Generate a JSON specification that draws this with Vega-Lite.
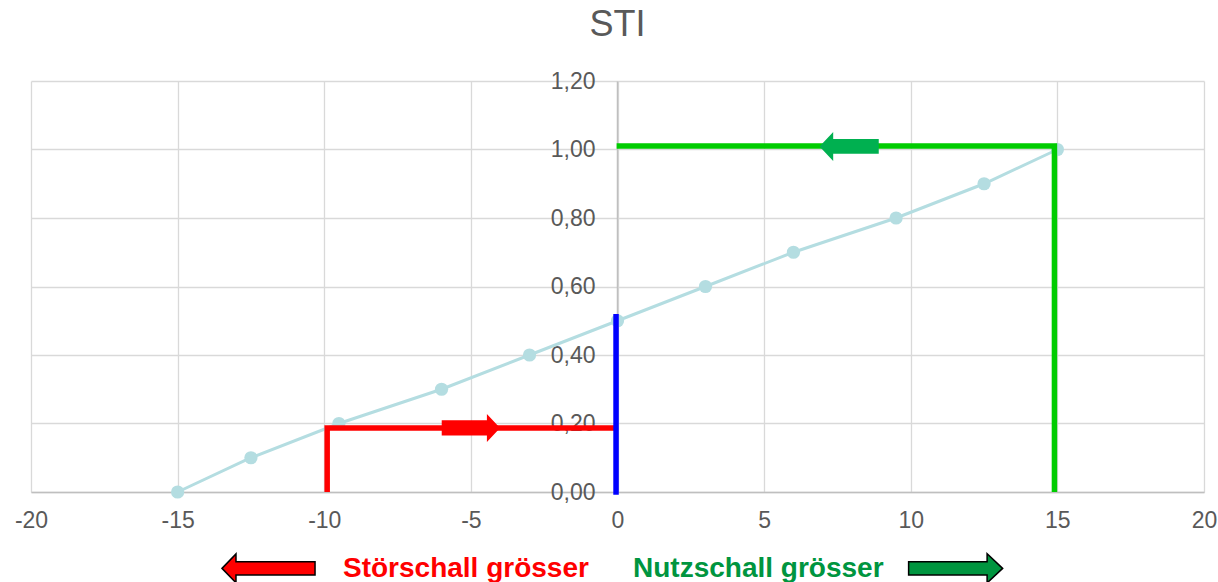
{
  "$schema": "https://vega.github.io/schema/vega-lite/v6.json",
  "width": 1173,
  "height": 411,
  "autosize": "none",
  "padding": {"left": 31, "top": 81, "right": 14, "bottom": 90},
  "background": "white",
  "config": {"view": {"stroke": null}, "font": "Liberation Sans"},
  "title": {"text": "STI", "fontSize": 36, "fontWeight": "normal", "color": "#595959", "font": "Liberation Sans", "baseline": "alphabetic", "offset": -2, "anchor": "middle"},
  "datasets": {
    "sti": [
      {"x": -15, "y": 0.0},
      {"x": -12.5, "y": 0.1},
      {"x": -9.5, "y": 0.2},
      {"x": -6, "y": 0.3},
      {"x": -3, "y": 0.4},
      {"x": 0, "y": 0.5},
      {"x": 3, "y": 0.6},
      {"x": 6, "y": 0.7},
      {"x": 9.5, "y": 0.8},
      {"x": 12.5, "y": 0.9},
      {"x": 15, "y": 1.0}
    ],
    "paths": [
      {"s": "red", "o": 1, "x": -9.9, "y": 0},
      {"s": "red", "o": 2, "x": -9.9, "y": 0.187},
      {"s": "red", "o": 3, "x": 0, "y": 0.187},
      {"s": "blue", "o": 1, "x": -0.05, "y": -0.008},
      {"s": "blue", "o": 2, "x": -0.05, "y": 0.52},
      {"s": "green", "o": 1, "x": 14.9, "y": 0},
      {"s": "green", "o": 2, "x": 14.9, "y": 1.01},
      {"s": "green", "o": 3, "x": -0.03, "y": 1.01}
    ],
    "arrows": [
      {"a": "redIn", "x": -5.0, "y": 0.187},
      {"a": "greenIn", "x": 7.9, "y": 1.009},
      {"a": "redOut", "x": -11.9, "y": -0.223},
      {"a": "greenOut", "x": 11.53, "y": -0.223}
    ],
    "labels": [
      {"a": "stoer", "t": "Störschall grösser", "x": -9.36, "y": -0.248},
      {"a": "nutz", "t": "Nutzschall grösser", "x": 0.53, "y": -0.248}
    ]
  },
  "encoding": {
    "x": {
      "field": "x", "type": "quantitative",
      "scale": {"domain": [-20, 20], "nice": false, "zero": false},
      "axis": {
        "values": [-20, -15, -10, -5, 0, 5, 10, 15, 20],
        "labelExpr": "datum.value < 0 ? '-' + abs(datum.value) : '' + datum.value",
        "title": null, "grid": true, "gridColor": "#d9d9d9", "gridWidth": 1.3,
        "domainColor": "#bfbfbf", "domainWidth": 1.5, "ticks": false,
        "labelFontSize": 23, "labelColor": "#595959", "labelFont": "Liberation Sans",
        "labelPadding": 17, "labelFlush": false, "labelOverlap": false
      }
    },
    "y": {
      "field": "y", "type": "quantitative",
      "scale": {"domain": [0, 1.2], "nice": false, "zero": true},
      "axis": {
        "values": [0, 0.2, 0.4, 0.6, 0.8, 1.0, 1.2],
        "labelExpr": "replace(format(datum.value, '.2f'), '.', ',')",
        "title": null, "grid": true, "gridColor": "#d9d9d9", "gridWidth": 1.3,
        "domainColor": "#bfbfbf", "domainWidth": 1.5, "ticks": false,
        "offset": -586,
        "labelFontSize": 23, "labelColor": "#595959", "labelFont": "Liberation Sans",
        "labelPadding": 22, "labelFlush": false, "labelOverlap": false
      }
    }
  },
  "layer": [
    {
      "data": {"name": "sti"},
      "mark": {"type": "line", "color": "#b4dde1", "strokeWidth": 3}
    },
    {
      "data": {"name": "sti"},
      "mark": {"type": "point", "filled": true, "color": "#b4dde1", "opacity": 1, "size": 175, "shape": "circle"}
    },
    {
      "data": {"name": "paths"},
      "mark": {"type": "line", "strokeWidth": 5.5, "strokeJoin": "miter", "strokeCap": "butt"},
      "encoding": {
        "detail": {"field": "s"},
        "order": {"field": "o", "type": "quantitative"},
        "color": {"field": "s", "type": "nominal", "scale": {"domain": ["red", "blue", "green"], "range": ["#ff0000", "#0000ff", "#00cc00"]}, "legend": null}
      }
    },
    {
      "data": {"name": "arrows"},
      "transform": [{"filter": "datum.a === 'redIn'"}],
      "mark": {"type": "point", "filled": true, "color": "#ff0000", "opacity": 1, "size": 3400, "strokeWidth": 0,
        "shape": "M-1,-0.26L0.55,-0.26L0.55,-0.48L1,0L0.55,0.48L0.55,0.26L-1,0.26Z"}
    },
    {
      "data": {"name": "arrows"},
      "transform": [{"filter": "datum.a === 'greenIn'"}],
      "mark": {"type": "point", "filled": true, "color": "#00b050", "opacity": 1, "size": 3500, "strokeWidth": 0,
        "shape": "M1,-0.25L-0.54,-0.25L-0.54,-0.49L-1,0L-0.54,0.49L-0.54,0.25L1,0.25Z"}
    },
    {
      "data": {"name": "arrows"},
      "transform": [{"filter": "datum.a === 'redOut'"}],
      "mark": {"type": "point", "filled": true, "fill": "#ff0000", "stroke": "#000000", "strokeWidth": 1.5, "opacity": 1, "size": 8649,
        "shape": "M-1,0L-0.7,-0.31L-0.7,-0.14L1,-0.14L1,0.14L-0.7,0.14L-0.7,0.31Z"}
    },
    {
      "data": {"name": "arrows"},
      "transform": [{"filter": "datum.a === 'greenOut'"}],
      "mark": {"type": "point", "filled": true, "fill": "#00953f", "stroke": "#000000", "strokeWidth": 1.5, "opacity": 1, "size": 8836,
        "shape": "M1,0L0.67,-0.31L0.67,-0.14L-1,-0.14L-1,0.14L0.67,0.14L0.67,0.31Z"}
    },
    {
      "data": {"name": "labels"},
      "transform": [{"filter": "datum.a === 'stoer'"}],
      "mark": {"type": "text", "align": "left", "baseline": "alphabetic", "fontSize": 28, "fontWeight": "bold", "font": "Liberation Sans", "color": "#ff0000"},
      "encoding": {"text": {"field": "t"}}
    },
    {
      "data": {"name": "labels"},
      "transform": [{"filter": "datum.a === 'nutz'"}],
      "mark": {"type": "text", "align": "left", "baseline": "alphabetic", "fontSize": 28, "fontWeight": "bold", "font": "Liberation Sans", "color": "#00953f"},
      "encoding": {"text": {"field": "t"}}
    }
  ]
}
